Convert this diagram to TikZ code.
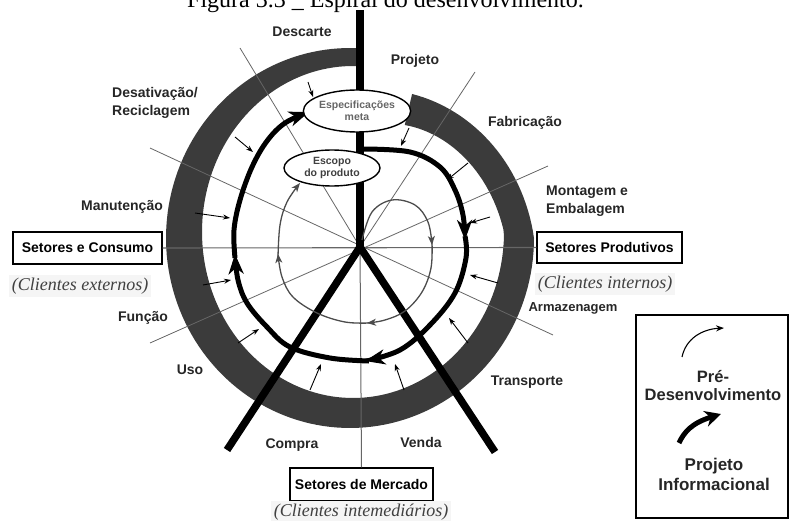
\documentclass[tikz,border=0pt]{standalone}
\usepackage{fontspec}
\setmainfont{Liberation Serif}
\newfontfamily\labfont{Liberation Sans}
\usetikzlibrary{arrows.meta,shapes.geometric}

\begin{document}
\begin{tikzpicture}[x=1pt,y=-1pt,
  declare function={gout(\t)=1-0.16*max(\t,0)/62; gin(\t)=1-0.27*max(\t,0)/62;},
  lbl/.style={font=\labfont\bfseries\fontsize{14}{18}\selectfont, text=black!85, inner sep=0pt},
  setor/.style={draw, line width=1.2pt, font=\labfont\bfseries\fontsize{14}{16}\selectfont, inner sep=0pt},
  cliente/.style={font=\itshape\fontsize{18}{20}\selectfont, text=black!75, fill=black!4, inner sep=3pt},
  balao/.style={ellipse, draw, line width=1.4pt, fill=white, inner sep=0pt, align=center,
    font=\labfont\bfseries\fontsize{10.5}{12}\selectfont},
  spoke/.style={draw=black!60, line width=0.8pt},
  seta/.style={line width=0.9pt, -{Stealth[length=7pt,width=5pt]}},
  grossa/.style={line width=5pt, -{Stealth[length=20pt,width=15pt,inset=6pt]}},
  fina/.style={draw=black!70, line width=1.3pt, -{Stealth[length=9pt,width=7pt,inset=2.5pt]}}]
\useasboundingbox (0,0) rectangle (789,521);

% title (top half falls off the page)
\node[anchor=base, font=\fontsize{24}{28}\selectfont] (titulo) at (385.5,8)
  {Figura 3.3 \_ Espiral do desenvolvimento.};

% sector boxes
\node[setor, minimum width=149pt, minimum height=32pt] (consumo) at (87.5,248) {Setores e Consumo};
\node[setor, minimum width=145pt, minimum height=31pt] (produtivos) at (609.5,247.5) {Setores Produtivos};
\node[setor, minimum width=143pt, minimum height=33pt] (mercado) at (361.5,484.5) {Setores de Mercado};
\node[cliente] (externos) at (80,286) {(Clientes externos)};
\node[cliente] (internos) at (605,284) {(Clientes internos)};
\node[cliente] (intermed) at (361,512) {(Clientes intemediários)};

% grey spiral band
\fill[black!77] plot[domain=66:-273, samples=160, variable=\t]
    ({350+184*gout(\t)*cos(\t)},{238-190*gout(\t)*sin(\t)})
  -- plot[domain=-273:62, samples=160, variable=\t]
    ({353+151*gin(\t)*cos(\t)},{232-166*gin(\t)*sin(\t)}) -- cycle;

% thin spokes
\coordinate (ctr) at (360,247);
\draw[spoke, line width=1.1pt] (consumo.east) -- (produtivos.west);
\draw[spoke, line width=1pt] (ctr) -- (mercado.north);
\draw[spoke] (240,48) -- (ctr);
\draw[spoke] (475,72) -- (ctr);
\draw[spoke] (150,148) -- (553,335);
\draw[spoke] (150,343) -- (548,166);

% small arrows from the band
\foreach \xa/\ya/\xb/\yb in {308/82/313/97, 235/137/253/152, 195/213/230/218,
    203/285/231/280, 238/343/259/329, 310/390/321/364, 404/390/395/364,
    468/343/449/318, 498/283/470/275, 490/217/470/223, 468/163/447/180, 409/128/401/146}
  \draw[seta] (\xa,\ya) -- (\xb,\yb);

% thick bar and legs
\coordinate (topo) at (360,10);
\coordinate (pernaE) at (227,450);
\coordinate (pernaD) at (495,452);
\draw[line width=7.5pt, line join=miter] (pernaE) -- (ctr) -- (pernaD);
\draw[line width=8pt] (topo) -- (ctr);

% thin inner spiral
\draw[fina] plot[smooth, tension=0.6] coordinates {(362,240) (372,212) (392,200) (415,205) (428,222) (432,245)};
\draw[fina] plot[smooth, tension=0.6] coordinates {(432,242) (431,268) (422,292) (405,311) (385,320) (367,323)};
\draw[fina] plot[smooth, tension=0.6] coordinates {(370,323) (345,322) (317,313) (293,297) (282,277) (278,254)};
\draw[fina] plot[smooth, tension=0.6] coordinates {(278,257) (280,225) (287,202) (300,183)};

% thick outer spiral
\draw[grossa] plot[smooth, tension=0.6] coordinates {(362,149) (410,152) (440,167) (455,190) (463,215) (465,240)};
\draw[grossa] plot[smooth, tension=0.6] coordinates {(465,236) (466,258) (455,293) (430,325) (400,350) (365,361)};
\draw[grossa] plot[smooth, tension=0.6] coordinates {(369,361) (330,358) (290,347) (267,327) (247,303) (238,280) (235,254)};
\draw[grossa] plot[smooth, tension=0.6] coordinates {(235,258) (234,230) (240,200) (252,167) (267,141) (285,123) (309,112)};

% ellipses
\node[balao, minimum width=92pt, minimum height=42pt, text=black!60] (espec) at (357,111) {Especificações\\meta};
\node[balao, minimum width=96pt, minimum height=36pt, text=black!75] (escopo) at (332,168) {Escopo\\do produto};

% phase labels
\node[lbl, anchor=base] (descarte) at (302,37) {Descarte};
\node[lbl, anchor=base] (projeto) at (415,65) {Projeto};
\node[lbl, anchor=west, align=left] (desativ) at (112,103) {Desativação/\\Reciclagem};
\node[lbl, anchor=base] (fabric) at (525,127) {Fabricação};
\node[lbl, anchor=west, align=left] (montagem) at (546,201) {Montagem e\\Embalagem};
\node[lbl, anchor=base] (manut) at (122,211) {Manutenção};
\node[lbl, anchor=base] (funcao) at (143,321) {Função};
\node[lbl, anchor=base] (uso) at (190,374) {Uso};
\node[lbl, anchor=base] (compra) at (292,448) {Compra};
\node[lbl, anchor=base] (venda) at (421,447) {Venda};
\node[lbl, anchor=base] (transp) at (527,385) {Transporte};
\node[lbl, anchor=base, font=\labfont\bfseries\fontsize{13}{15}\selectfont] (armaz) at (573,311) {Armazenagem};

% legend
\draw[line width=2pt] (636,315) rectangle (787.5,518);
\draw[line width=1.1pt, -{Stealth[length=8pt,width=6pt]}] (682,357) .. controls (686,338) and (703,329) .. (724,328);
\node[lbl, align=center, font=\labfont\bfseries\fontsize{16.5}{18}\selectfont] (predes) at (713,386) {Pré-\\Desenvolvimento};
\draw[line width=5pt, -{Stealth[length=16pt,width=16pt,inset=5pt]}] (679,443) .. controls (684,432) and (692,423) .. (721,414);
\node[lbl, align=center, font=\labfont\bfseries\fontsize{17}{20}\selectfont] (projinf) at (714,474) {Projeto\\Informacional};
\end{tikzpicture}
\end{document}
